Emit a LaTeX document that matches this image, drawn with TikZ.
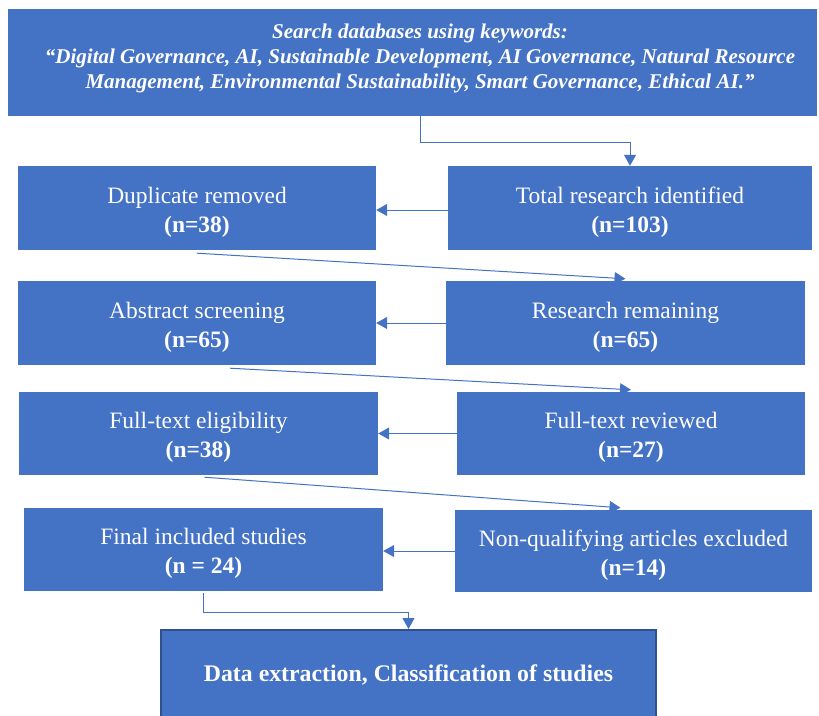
\documentclass[tikz,border=0pt]{standalone}
\usepackage{fontspec}
\setmainfont{Liberation Serif}
\usetikzlibrary{arrows.meta}
\definecolor{obl}{HTML}{4472C4}
\definecolor{obd}{HTML}{2F528F}
\newcommand{\flowbox}[7]{%
  \node[box,minimum width=#4,minimum height=#5] (#1) at (#2,#3) {};
  \node[txt] (#1t) at (#2,#3+4) {#6\\ \textbf{#7}};}
\begin{document}
\begin{tikzpicture}[x=1pt,y=-1pt,
  box/.style={rectangle,fill=obl,draw=none,inner sep=0pt},
  txt/.style={text=white,align=center,inner sep=0pt,font=\fontsize{23.5}{29}\selectfont},
  arr/.style={draw=obl,line width=1pt,-{Triangle[length=11pt,width=12pt]}}]
\useasboundingbox (0,0) rectangle (819,715);
\node[box,minimum width=809,minimum height=107] (top) at (412.5,62.5) {};
\node[txt,font=\fontsize{21}{25}\selectfont\bfseries\itshape] (toptext) at (420,58.5) {Search databases using keywords:\\ “Digital Governance, AI, Sustainable Development, AI Governance, Natural Resource\\ Management, Environmental Sustainability, Smart Governance, Ethical AI.”};
\flowbox{l1}{197}{208}{358}{84}{Duplicate removed}{(n=38)}
\flowbox{r1}{630}{208}{364}{84}{Total research identified}{(n=103)}
\flowbox{l2}{197}{323}{358}{84}{Abstract screening}{(n=65)}
\flowbox{r2}{625.5}{323}{359}{84}{Research remaining}{(n=65)}
\flowbox{l3}{198.5}{433.5}{359}{83}{Full-text eligibility}{(n=38)}
\flowbox{r3}{631}{433.5}{348}{83}{Full-text reviewed}{(n=27)}
\flowbox{l4}{203.5}{549.5}{359}{83}{Final included studies}{(n = 24)}
\flowbox{r4}{633.5}{551}{357}{82}{Non-qualifying articles excluded}{(n=14)}
\node[box,draw=obd,line width=2pt,minimum width=495,minimum height=90] (bot) at (408.5,675) {};
\node[txt,font=\fontsize{23.8}{28}\selectfont\bfseries] (bott) at (408.5,675) {Data extraction, Classification of studies};
\draw[arr] ([xshift=7.5]top.south) -- ++(0,26) -| (r1.north);
\draw[arr] ([yshift=-2]r1.west) -- ([yshift=-2]l1.east);
\draw[arr] ([yshift=-3]l1.south) -- ([yshift=2]r2.north);
\draw[arr] (r2.west) -- (l2.east);
\draw[arr] ([xshift=33,yshift=-3]l2.south) -- ([yshift=2]r3.north);
\draw[arr] (r3.west) -- (l3.east);
\draw[arr] ([xshift=6,yshift=-2]l3.south) -- ([xshift=-13,yshift=2]r4.north);
\draw[arr] (r4.west) -- ([yshift=-1.5]l4.east);
\draw[arr] ([yshift=-2]l4.south) -- ++(0,19) -| (bot.north);
\end{tikzpicture}
\end{document}
